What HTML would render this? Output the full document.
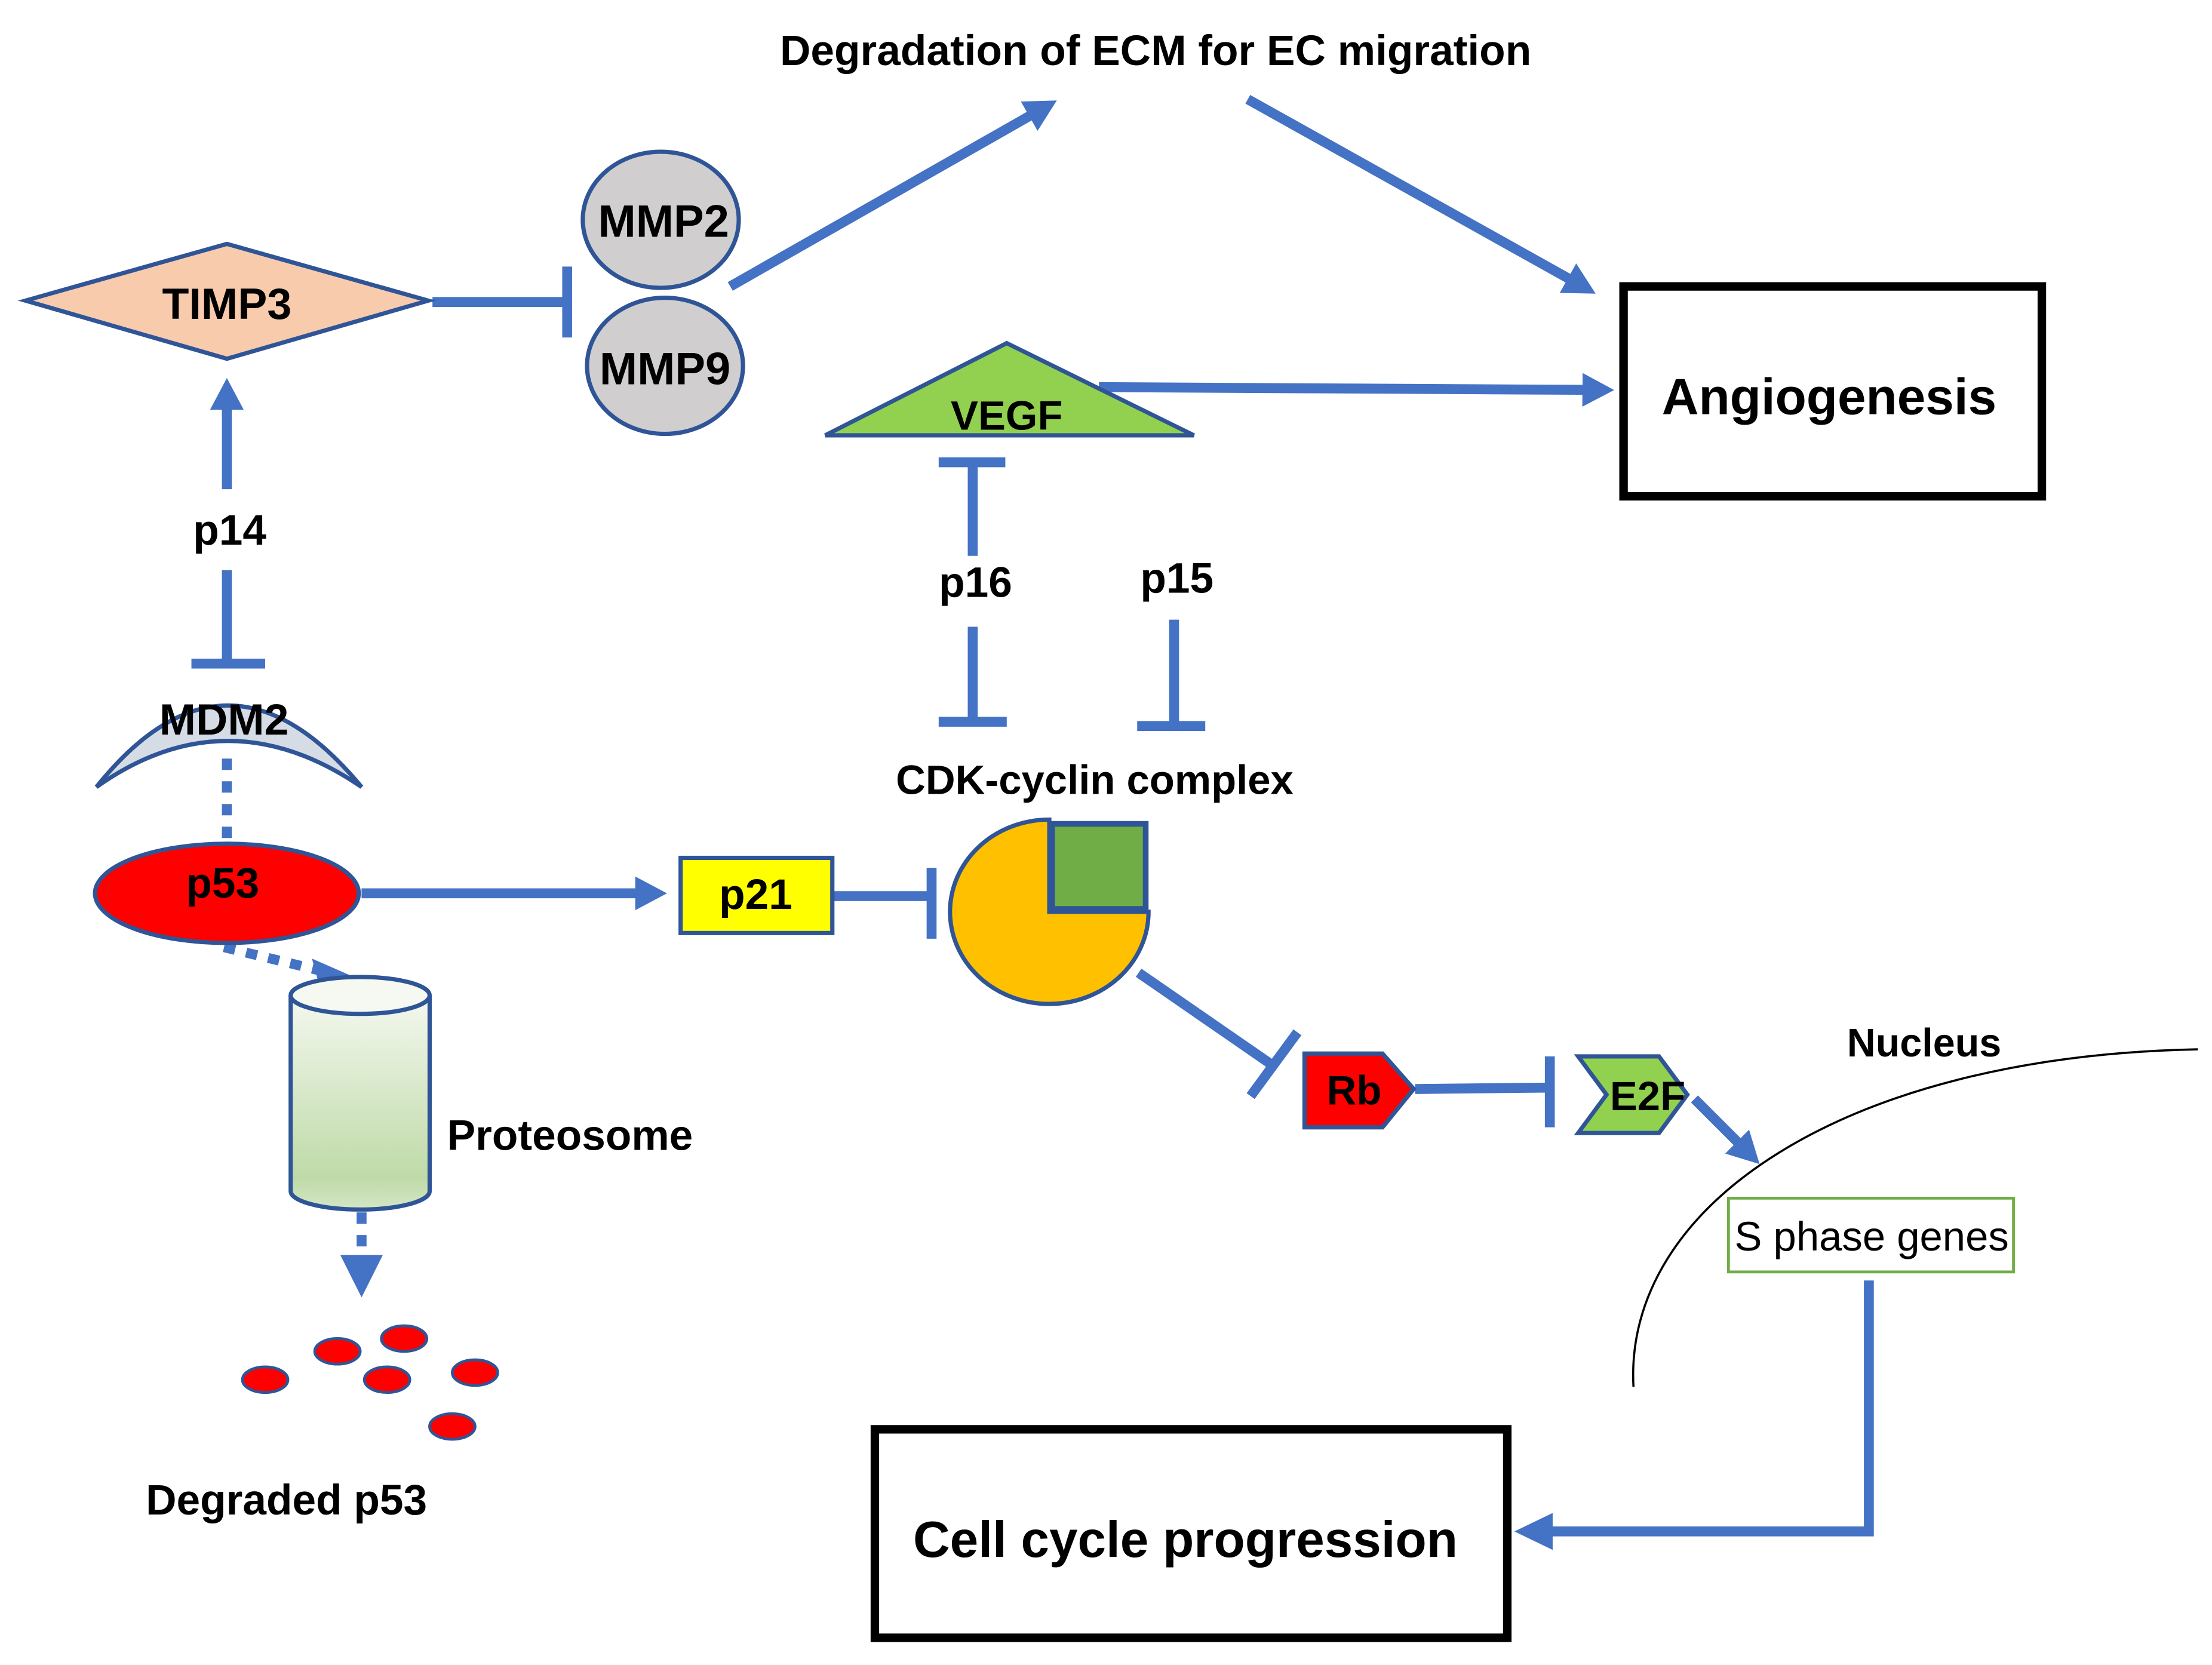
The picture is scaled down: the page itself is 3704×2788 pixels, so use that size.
<!DOCTYPE html>
<html><head><meta charset="utf-8"><style>
html,body{margin:0;padding:0;background:#fff}
svg{display:block}
text{font-family:"Liberation Sans",sans-serif;font-weight:bold;fill:#000}
</style></head><body>
<svg width="3704" height="2788" viewBox="0 0 1560 1174.2" preserveAspectRatio="none" xmlns="http://www.w3.org/2000/svg">
<defs>
<marker id="ah" markerWidth="4" markerHeight="4" refX="2" refY="2" orient="auto" markerUnits="strokeWidth"><path d="M0,0.3 L3.2,2 L0,3.7 Z" fill="#4472c4"/></marker>
<linearGradient id="cg" x1="0" y1="0" x2="0" y2="1"><stop offset="0" stop-color="#f4f8ef"/><stop offset="0.85" stop-color="#bfdaa8"/><stop offset="1" stop-color="#d4e6c4"/></linearGradient>
</defs>
<g stroke="#4472c4" stroke-width="7" fill="none">
<line x1="515" y1="202" x2="738" y2="75" marker-end="url(#ah)"/>
<line x1="880" y1="70" x2="1118" y2="203" marker-end="url(#ah)"/>
<line x1="775" y1="273" x2="1130" y2="275" marker-end="url(#ah)"/>
<line x1="305" y1="213" x2="400" y2="213"/><line x1="400" y1="188" x2="400" y2="238"/>
<line x1="686" y1="326" x2="686" y2="392"/><line x1="662" y1="326" x2="709" y2="326"/>
<line x1="686" y1="442" x2="686" y2="509"/><line x1="662" y1="509" x2="710" y2="509"/>
<line x1="828" y1="437" x2="828" y2="512"/><line x1="802" y1="512" x2="850" y2="512"/>
<line x1="255" y1="630" x2="462" y2="630" marker-end="url(#ah)"/>
<line x1="587" y1="632" x2="657" y2="632"/><line x1="657" y1="612" x2="657" y2="662"/>
<line x1="803" y1="686" x2="900" y2="753"/><line x1="915" y1="728" x2="882" y2="773"/>
<line x1="998" y1="768" x2="1092" y2="767"/><line x1="1093" y1="745" x2="1093" y2="795"/>
<line x1="1195" y1="775" x2="1235" y2="815" marker-end="url(#ah)"/>
<polyline points="1318,903 1318,1080 1082,1080"/>
<polygon points="1068,1080 1095,1067 1095,1093" fill="#4472c4" stroke="none"/>
<line x1="160" y1="345" x2="160" y2="275" marker-end="url(#ah)"/>
<line x1="160" y1="402" x2="160" y2="468"/><line x1="135" y1="468" x2="187" y2="468"/>
<line x1="160" y1="535" x2="160" y2="598" stroke-dasharray="8,8"/>
<line x1="158" y1="668" x2="228" y2="685" stroke-dasharray="8,8"/>
<polygon points="252,690 220,676 226,698" fill="#4472c4" stroke="none"/>
<line x1="255" y1="855" x2="255" y2="885" stroke-dasharray="8,8"/>
<polygon points="240,885 270,885 255,915" fill="#4472c4" stroke="none"/>
</g>
<text x="815" y="46" font-size="30" text-anchor="middle">Degradation of ECM for EC migration</text>
<rect x="1145" y="202" width="295" height="148" fill="none" stroke="#000" stroke-width="6"/>
<text x="1290" y="292" font-size="36" text-anchor="middle">Angiogenesis</text>
<polygon points="18,212 160,172 302,212 160,253" fill="#f8cbad" stroke="#2f5597" stroke-width="3"/>
<text x="160" y="225" font-size="31" text-anchor="middle">TIMP3</text>
<ellipse cx="466" cy="155" rx="55" ry="48" fill="#d0cece" stroke="#2f5597" stroke-width="3"/>
<text x="468" y="167" font-size="32" text-anchor="middle">MMP2</text>
<ellipse cx="469" cy="258" rx="55" ry="48" fill="#d0cece" stroke="#2f5597" stroke-width="3"/>
<text x="469" y="271" font-size="32" text-anchor="middle">MMP9</text>
<polygon points="582,307 710,242 842,307" fill="#92d050" stroke="#2f5597" stroke-width="3"/>
<text x="710" y="303" font-size="29" text-anchor="middle">VEGF</text>
<text x="688" y="421" font-size="30" text-anchor="middle">p16</text>
<text x="830" y="418" font-size="30" text-anchor="middle">p15</text>
<text x="772" y="560" font-size="29" text-anchor="middle">CDK-cyclin complex</text>
<path d="M740,643 L740,578 A70,65 0 1,0 810,643 Z" fill="#ffc000" stroke="#2f5597" stroke-width="3"/>
<rect x="742" y="581" width="66" height="60" fill="#70ad47" stroke="#2f5597" stroke-width="4"/>
<rect x="480" y="605" width="107" height="53" fill="#ffff00" stroke="#2f5597" stroke-width="3"/>
<text x="533" y="641" font-size="30" text-anchor="middle">p21</text>
<polygon points="920,743 975,743 997,768 975,795 920,795" fill="#ff0000" stroke="#2f5597" stroke-width="3"/>
<text x="955" y="779" font-size="29" text-anchor="middle">Rb</text>
<polygon points="1113,745 1170,745 1190,772 1170,799 1113,799 1133,772" fill="#92d050" stroke="#2f5597" stroke-width="3"/>
<text x="1162" y="783" font-size="29" text-anchor="middle">E2F</text>
<text x="1357" y="745" font-size="28" text-anchor="middle">Nucleus</text>
<path d="M1152,978 C1145,850 1300,745 1550,740" fill="none" stroke="#000" stroke-width="1.5"/>
<rect x="1219" y="845" width="201" height="52" fill="#fff" stroke="#70ad47" stroke-width="2"/>
<text x="1320" y="882" font-size="29" text-anchor="middle" style="font-weight:normal">S phase genes</text>
<rect x="617" y="1008" width="446" height="147" fill="none" stroke="#000" stroke-width="6"/>
<text x="836" y="1098" font-size="36" text-anchor="middle">Cell cycle progression</text>
<text x="162" y="384" font-size="30" text-anchor="middle">p14</text>
<path d="M68,555 Q160,440 255,555 Q160,490 68,555 Z" fill="#d6dce5" stroke="#2f5597" stroke-width="3"/>
<text x="158" y="518" font-size="31" text-anchor="middle">MDM2</text>
<ellipse cx="160" cy="630" rx="93" ry="35" fill="#ff0000" stroke="#2f5597" stroke-width="3"/>
<text x="157" y="633" font-size="30" text-anchor="middle">p53</text>
<path d="M205,702 L205,840 A49,13 0 0,0 303,840 L303,702" fill="url(#cg)" stroke="#2f5597" stroke-width="3"/>
<ellipse cx="254" cy="702" rx="49" ry="13" fill="#f6f9f2" stroke="#2f5597" stroke-width="3"/>
<text x="402" y="811" font-size="30" text-anchor="middle">Proteosome</text>
<g fill="#ff0000" stroke="#2f5597" stroke-width="2">
<ellipse cx="187" cy="973" rx="16" ry="9"/><ellipse cx="238" cy="953" rx="16" ry="9"/>
<ellipse cx="285" cy="944" rx="16" ry="9"/><ellipse cx="273" cy="973" rx="16" ry="9"/>
<ellipse cx="335" cy="968" rx="16" ry="9"/><ellipse cx="319" cy="1006" rx="16" ry="9"/>
</g>
<text x="202" y="1068" font-size="30" text-anchor="middle">Degraded p53</text>
</svg>
</body></html>
